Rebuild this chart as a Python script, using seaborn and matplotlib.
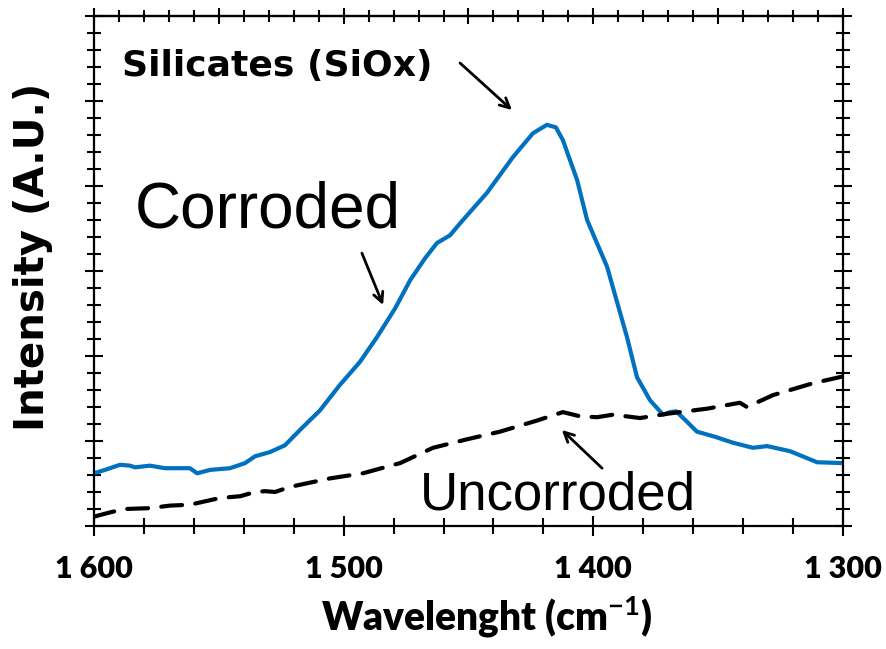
import numpy as np
import pandas as pd
import matplotlib
matplotlib.use("Agg")
import matplotlib.pyplot as plt
from matplotlib.ticker import MultipleLocator, NullFormatter
import seaborn as sns

# Raman spectra: wavenumber (cm-1) and intensity (arbitrary units)
corroded_wn = [1600.0, 1595.6, 1589.6, 1585.6, 1583.6, 1577.6, 1571.6, 1565.6, 1561.6,
               1558.7, 1553.5, 1545.5, 1539.5, 1535.5, 1529.5, 1523.5, 1517.5, 1509.5,
               1501.5, 1493.5, 1486.7, 1479.4, 1473.4, 1467.4, 1462.6, 1457.4, 1453.4,
               1442.6, 1432.2, 1424.2, 1418.6, 1415.0, 1412.2, 1406.5, 1402.5, 1394.5,
               1386.5, 1382.5, 1377.3, 1372.1, 1369.3, 1366.9, 1363.3, 1358.5, 1351.3,
               1344.1, 1336.1, 1330.4, 1321.2, 1310.4, 1300.0]
corroded_int = [0.62, 0.66, 0.72, 0.71, 0.69, 0.71, 0.68, 0.68, 0.68,
                0.62, 0.66, 0.68, 0.74, 0.82, 0.87, 0.95, 1.13, 1.36,
                1.66, 1.93, 2.22, 2.56, 2.89, 3.15, 3.33, 3.42, 3.56,
                3.92, 4.34, 4.62, 4.72, 4.69, 4.54, 4.07, 3.60, 3.05,
                2.22, 1.75, 1.48, 1.31, 1.34, 1.35, 1.25, 1.11, 1.05,
                0.98, 0.92, 0.94, 0.88, 0.75, 0.74]

uncorroded_wn = [1600.0, 1593.6, 1587.6, 1577.6, 1569.6, 1561.6, 1549.5, 1541.5, 1535.5,
                 1531.5, 1527.5, 1521.5, 1505.5, 1492.3, 1477.4, 1464.2, 1450.6, 1437.4,
                 1422.6, 1412.2, 1405.3, 1398.5, 1392.1, 1381.3, 1370.5, 1365.3, 1354.5,
                 1341.3, 1338.5, 1328.0, 1312.0, 1300.0]
uncorroded_int = [0.11, 0.16, 0.20, 0.21, 0.24, 0.25, 0.33, 0.35, 0.40,
                  0.41, 0.40, 0.46, 0.56, 0.62, 0.74, 0.92, 1.02, 1.11,
                  1.24, 1.34, 1.29, 1.28, 1.31, 1.27, 1.32, 1.34, 1.38,
                  1.45, 1.40, 1.54, 1.68, 1.76]

xtick_values = [1600, 1500, 1400, 1300]
xtick_labels = ["1 600", "1 500", "1 400", "1 300"]

sns.set_style("white")
plt.rcParams["font.family"] = ["Liberation Sans", "DejaVu Sans"]
plt.rcParams["text.color"] = "black"
plt.rcParams["axes.labelcolor"] = "black"
plt.rcParams["xtick.color"] = "black"
plt.rcParams["ytick.color"] = "black"
plt.rcParams["mathtext.fontset"] = "custom"
plt.rcParams["mathtext.rm"] = "Lato"
plt.rcParams["mathtext.bf"] = "Lato:bold"

fig = plt.figure(figsize=(8.86, 6.49), dpi=100)
ax = fig.add_axes([94 / 886, 1 - 526 / 649, (843 - 94) / 886, (526 - 16) / 649])

df_c = pd.DataFrame({"wn": corroded_wn, "intensity": corroded_int})
df_u = pd.DataFrame({"wn": uncorroded_wn, "intensity": uncorroded_int})

sns.lineplot(data=df_c, x="wn", y="intensity", ax=ax, color="#0070C0", lw=3,
             sort=False, estimator=None, solid_joinstyle="round", solid_capstyle="round")
sns.lineplot(data=df_u, x="wn", y="intensity", ax=ax, color="black", lw=3,
             sort=False, estimator=None, linestyle=(0, (5, 3.2)),
             dash_joinstyle="round", dash_capstyle="round")

ax.set_xlim(1600, 1300)
ax.set_ylim(0, 6)

for sp in ax.spines.values():
    sp.set_visible(True)
    sp.set_linewidth(1.6)
    sp.set_color("black")

# bottom axis: labelled majors every 100, minors every 20
ax.set_xticks(xtick_values)
ax.set_xticklabels(xtick_labels)
ax.xaxis.set_minor_locator(MultipleLocator(20))
ax.yaxis.set_major_locator(MultipleLocator(1))
ax.yaxis.set_minor_locator(MultipleLocator(0.2))
ax.yaxis.set_major_formatter(NullFormatter())
ax.tick_params(axis="x", which="major", direction="inout", length=14, width=1.5,
               bottom=True, top=False, pad=14)
ax.tick_params(axis="x", which="minor", direction="inout", length=11, width=1.5,
               bottom=True, top=False)
ax.tick_params(axis="y", which="major", direction="inout", length=13, width=1.5,
               left=True, right=True)
ax.tick_params(axis="y", which="minor", direction="inout", length=10, width=1.5,
               left=True, right=True)
for lab in ax.get_xticklabels():
    lab.set_fontfamily(["Lato", "DejaVu Sans"])
    lab.set_fontweight("heavy")
    lab.set_fontsize(22)
    lab.set_color("black")

# top axis: majors every 50, minors every 10
top = ax.secondary_xaxis("top")
top.xaxis.set_major_locator(MultipleLocator(50))
top.xaxis.set_minor_locator(MultipleLocator(10))
top.xaxis.set_major_formatter(NullFormatter())
top.tick_params(which="major", direction="inout", length=12, width=1.5, color="black")
top.tick_params(which="minor", direction="inout", length=9, width=1.5, color="black")
top.spines["top"].set_linewidth(1.6)
top.spines["top"].set_color("black")

ax.set_xlabel(r"Wavelenght (cm$^{\mathbf{-1}}$)", fontfamily=["Lato", "DejaVu Sans"],
              fontweight="heavy", fontsize=28, color="black")
ax.xaxis.set_label_coords(0.524, -0.135, transform=ax.transAxes)
ax.xaxis.label.set_va("top")
ax.set_ylabel("Intensity (A.U.)", fontfamily="DejaVu Sans", fontweight="bold",
              fontsize=29, color="black")
ax.yaxis.set_label_coords(-0.081, 0.527, transform=ax.transAxes)
ax.yaxis.label.set_va("center")

# annotations
ax.text(1588.8, 5.29, "Silicates (SiOx)", fontfamily="DejaVu Sans", fontweight="bold",
        fontsize=26, ha="left", va="baseline", color="black")
ax.text(1583.6, 3.51, "Corroded", fontsize=46, ha="left", va="baseline", color="black")
ax.text(1469.4, 0.19, "Uncorroded", fontsize=38, ha="left", va="baseline", color="black")

arrow = dict(arrowstyle="->,head_length=0.7,head_width=0.35", color="black", lw=2,
             shrinkA=0, shrinkB=0)
ax.annotate("", xy=(1432.6, 4.894), xytext=(1453.4, 5.447), arrowprops=arrow)
ax.annotate("", xy=(1484.2, 2.60), xytext=(1492.7, 3.21), arrowprops=arrow)
ax.annotate("", xy=(1412.6, 1.13), xytext=(1396.5, 0.68), arrowprops=arrow)

fig.savefig("out.png", dpi=100)
